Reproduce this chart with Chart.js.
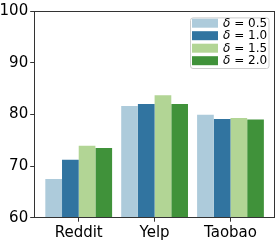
<!DOCTYPE html>
<html>
<head>
<meta charset="utf-8">
<script src="https://cdn.jsdelivr.net/npm/chart.js@4/dist/chart.umd.min.js"></script>
<style>
  html, body { margin: 0; padding: 0; background: #fff; }
  canvas { display: block; }
</style>
</head>
<body>
<canvas id="chart" width="277" height="240"></canvas>
<script>
const categories = ['Reddit', 'Yelp', 'Taobao']
const deltas = ['0.5', '1.0', '1.5', '2.0']
const d05 = [67.5, 81.6, 79.9]
const d10 = [71.2, 82.0, 79.1]
const d15 = [73.9, 83.7, 79.3]
const d20 = [73.5, 82.0, 79.0]
const yTicks = [60, 70, 80, 90, 100]

const seriesValues = [d05, d10, d15, d20]
const colors = ['#adcbdb', '#3174a0', '#b2d595', '#40923a']
const FONT = 'DejaVu Sans'

// box around the plot, like matplotlib spines
const framePlugin = {
  id: 'frame',
  afterDatasetsDraw(chart) {
    const {ctx, chartArea: a} = chart
    ctx.save()
    ctx.strokeStyle = '#333'
    ctx.lineWidth = 1
    ctx.strokeRect(Math.round(a.left) - 0.5, Math.round(a.top) + 0.5,
      Math.round(a.right - a.left), Math.round(a.bottom - a.top) - 1)
    ctx.restore()
  }
}

// legend in the upper right corner with a rounded frame
const legendPlugin = {
  id: 'boxLegend',
  afterDraw(chart) {
    const {ctx, chartArea: a} = chart
    const w = 78.5, h = 50.6
    const x = a.right - 6 - w, y = a.top + 6.4
    ctx.save()
    ctx.beginPath()
    ctx.roundRect(x + 0.5, y + 0.5, w, h, 2.5)
    ctx.fillStyle = 'rgba(255,255,255,0.8)'
    ctx.fill()
    ctx.strokeStyle = '#cccccc'
    ctx.lineWidth = 1
    ctx.stroke()
    chart.data.datasets.forEach((ds, i) => {
      const cy = y + 5.8 + i * 12.5
      ctx.fillStyle = ds.backgroundColor
      ctx.fillRect(x + 2, cy - 4.5, 26, 9)
      ctx.fillStyle = '#000'
      ctx.textBaseline = 'middle'
      ctx.font = 'italic 12px ' + FONT
      ctx.fillText(ds.label[0], x + 33, cy + 0.5)
      const dw = ctx.measureText(ds.label[0]).width
      ctx.font = '12px ' + FONT
      ctx.fillText(ds.label.slice(1), x + 33 + dw, cy + 0.5)
    })
    ctx.restore()
  }
}

new Chart(document.getElementById('chart'), {
  type: 'bar',
  data: {
    datasets: seriesValues.map((vals, i) => ({
      label: 'δ = ' + deltas[i],
      data: vals.map((v, j) => ({x: j, y: v})),
      backgroundColor: colors[i],
      borderWidth: 0,
      categoryPercentage: 0.88,
      barPercentage: 1
    }))
  },
  options: {
    responsive: false,
    animation: false,
    devicePixelRatio: 1,
    layout: {padding: {top: 6.3, right: 2.5, left: 0, bottom: 0}},
    plugins: {legend: {display: false}, tooltip: {enabled: false}},
    scales: {
      x: {
        type: 'linear',
        min: -0.58,
        max: 2.58,
        offset: false,
        afterBuildTicks: (scale) => { scale.ticks = categories.map((c, i) => ({value: i})) },
        afterFit: (scale) => { scale.height = 22.3 },
        ticks: {
          callback: (v) => categories[v],
          color: '#000',
          font: {family: FONT, size: 15},
          padding: 2,
          maxRotation: 0,
          autoSkip: false
        },
        grid: {display: true, offset: false, drawOnChartArea: false, drawTicks: true, tickLength: 4, tickColor: '#333'},
        border: {display: false}
      },
      y: {
        min: 60,
        max: 100,
        afterBuildTicks: (scale) => { scale.ticks = yTicks.map(v => ({value: v})) },
        afterFit: (scale) => { scale.width = 34.7 },
        ticks: {
          color: '#000',
          font: {family: FONT, size: 15},
          padding: 2
        },
        grid: {display: true, drawOnChartArea: false, drawTicks: true, tickLength: 4.5, tickColor: '#333'},
        border: {display: false}
      }
    }
  },
  plugins: [framePlugin, legendPlugin]
})
</script>
</body>
</html>
